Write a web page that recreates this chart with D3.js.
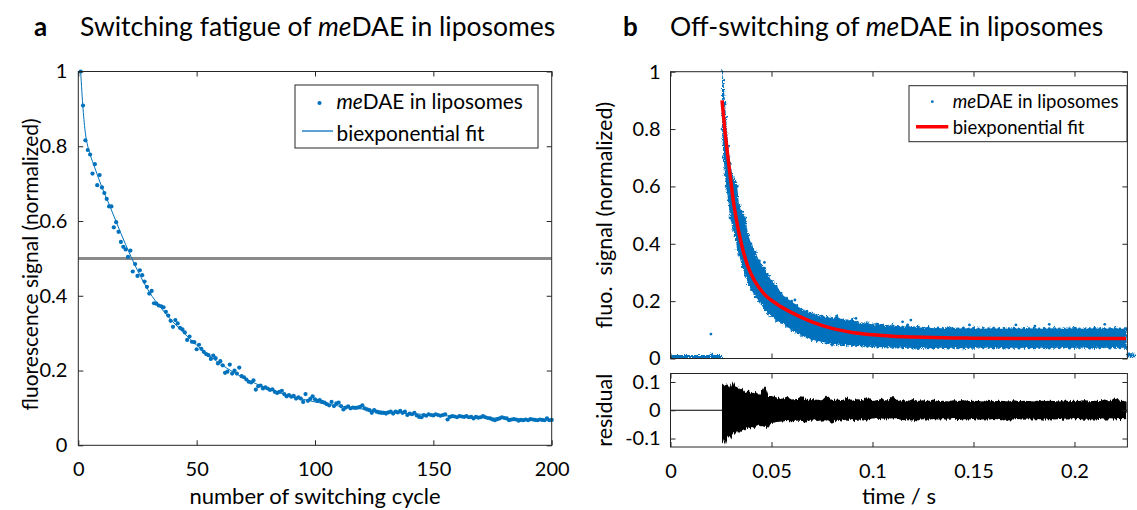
<!DOCTYPE html>
<html>
<head>
<meta charset="utf-8">
<script src="https://cdn.jsdelivr.net/npm/d3@7"></script>
<style>
  body { margin: 0; background: #fff; }
  svg text { font-family: Lato, "Open Sans", sans-serif; fill: #000; }
  .pre { white-space: pre; }
</style>
</head>
<body>
<svg id="chart" width="1137" height="510"></svg>
<script>
// ---------- panel a: switching fatigue ----------
const fatigueSignal = [
  1.000, 0.909, 0.816, 0.790, 0.778, 0.727, 0.752, 0.696, 0.723, 0.690,
  0.675, 0.659, 0.639, 0.639, 0.583, 0.597, 0.571, 0.544, 0.531, 0.524,
  0.504, 0.521, 0.465, 0.485, 0.453, 0.468, 0.455, 0.438, 0.424, 0.406,
  0.413, 0.380, 0.379, 0.374, 0.372, 0.369, 0.357, 0.347, 0.333, 0.317,
  0.335, 0.326, 0.314, 0.310, 0.302, 0.282, 0.291, 0.277, 0.276, 0.257,
  0.269, 0.258, 0.250, 0.244, 0.241, 0.231, 0.240, 0.233, 0.219, 0.225,
  0.214, 0.194, 0.197, 0.216, 0.192, 0.200, 0.192, 0.208, 0.185, 0.182,
  0.176, 0.170, 0.168, 0.174, 0.149, 0.158, 0.160, 0.152, 0.155, 0.152,
  0.148, 0.150, 0.143, 0.140, 0.143, 0.146, 0.137, 0.131, 0.134, 0.130,
  0.132, 0.125, 0.128, 0.125, 0.116, 0.137, 0.119, 0.124, 0.131, 0.123,
  0.119, 0.121, 0.116, 0.114, 0.110, 0.107, 0.116, 0.105, 0.112, 0.114,
  0.105, 0.096, 0.101, 0.104, 0.099, 0.101, 0.100, 0.101, 0.103, 0.107,
  0.099, 0.096, 0.094, 0.087, 0.094, 0.090, 0.088, 0.087, 0.087, 0.085,
  0.088, 0.090, 0.085, 0.090, 0.088, 0.092, 0.087, 0.090, 0.081, 0.085,
  0.083, 0.087, 0.080, 0.076, 0.075, 0.081, 0.079, 0.083, 0.081, 0.080,
  0.083, 0.081, 0.079, 0.081, 0.083, 0.069, 0.076, 0.078, 0.077, 0.075,
  0.078, 0.077, 0.076, 0.078, 0.075, 0.076, 0.072, 0.076, 0.074, 0.075,
  0.078, 0.075, 0.073, 0.072, 0.069, 0.067, 0.070, 0.072, 0.075, 0.073,
  0.072, 0.067, 0.069, 0.070, 0.069, 0.066, 0.068, 0.067, 0.069, 0.067,
  0.070, 0.069, 0.068, 0.067, 0.069, 0.068, 0.067, 0.072, 0.067, 0.068
];
const fatigueCycle = fatigueSignal.map((_, i) => i + 1);

const fatigueFitCycle = [1, 2, 3, 4, 5, 7, 10, 13, 16, 20, 25, 30, 35, 40, 45, 50,
  60, 70, 80, 90, 100, 110, 120, 130, 140, 150, 160, 170, 180, 190, 200];
const fatigueFitValue = [1.000, 0.900, 0.835, 0.800, 0.778, 0.742, 0.690, 0.645, 0.598,
  0.537, 0.468, 0.410, 0.367, 0.330, 0.298, 0.268, 0.218, 0.180, 0.152, 0.131,
  0.116, 0.105, 0.097, 0.090, 0.085, 0.081, 0.077, 0.074, 0.072, 0.070, 0.068];

const halfLevel = 0.5;
const aXTicks = [0, 50, 100, 150, 200];
const aYTicks = [0, 0.2, 0.4, 0.6, 0.8, 1];

// ---------- panel b: off-switching kinetics ----------
// sample times of the decay (s) with upper / lower edge of the measured point cloud
const offTime = [
  0.0255, 0.0262, 0.0270, 0.0275, 0.0286, 0.0295, 0.0310, 0.0320, 0.0330, 0.0340,
  0.0355, 0.0370, 0.0385, 0.0400, 0.0420, 0.0440, 0.0465, 0.0485, 0.0500,
  0.0525, 0.0550, 0.0575, 0.0600, 0.0625, 0.0650, 0.0675, 0.0700, 0.0725, 0.0750,
  0.0775, 0.0800, 0.0825, 0.0850, 0.0875, 0.0900, 0.0925, 0.0950, 0.0975, 0.1000,
  0.1025, 0.1050, 0.1075, 0.1100, 0.1125, 0.1150, 0.1175, 0.1200, 0.1225, 0.1250,
  0.1275, 0.1300, 0.1325, 0.1350, 0.1375, 0.1400, 0.1425, 0.1450, 0.1475, 0.1500,
  0.1525, 0.1550, 0.1575, 0.1600, 0.1625, 0.1650, 0.1675, 0.1700, 0.1725, 0.1750,
  0.1775, 0.1800, 0.1825, 0.1850, 0.1875, 0.1900, 0.1925, 0.1950, 0.1975, 0.2000,
  0.2025, 0.2050, 0.2075, 0.2100, 0.2125, 0.2150, 0.2175, 0.2200, 0.2225, 0.2250,
  0.2258
];
const offHigh = [
  1.000, 0.970, 0.890, 0.840, 0.740, 0.680, 0.630, 0.615, 0.600, 0.530,
  0.510, 0.490, 0.430, 0.400, 0.370, 0.340, 0.315, 0.290, 0.270,
  0.255, 0.225, 0.210, 0.200, 0.185, 0.172, 0.165, 0.158, 0.152, 0.148,
  0.145, 0.140, 0.146, 0.135, 0.132, 0.136, 0.127, 0.122, 0.124, 0.118,
  0.120, 0.116, 0.113, 0.117, 0.112, 0.110, 0.114, 0.108, 0.110, 0.106,
  0.109, 0.105, 0.107, 0.104, 0.108, 0.105, 0.103, 0.107, 0.104, 0.106,
  0.103, 0.105, 0.104, 0.106, 0.103, 0.105, 0.104, 0.106, 0.103, 0.105,
  0.104, 0.106, 0.103, 0.105, 0.104, 0.106, 0.103, 0.105, 0.104, 0.106,
  0.103, 0.105, 0.104, 0.106, 0.103, 0.105, 0.104, 0.107, 0.103, 0.104,
  0.104
];
const offLow = [
  0.800, 0.700, 0.640, 0.600, 0.550, 0.490, 0.450, 0.430, 0.380, 0.360,
  0.320, 0.290, 0.260, 0.240, 0.215, 0.200, 0.170, 0.155, 0.148,
  0.132, 0.125, 0.112, 0.100, 0.090, 0.080, 0.073, 0.066, 0.062, 0.058,
  0.054, 0.050, 0.050, 0.047, 0.047, 0.045, 0.044, 0.043, 0.042, 0.041,
  0.040, 0.039, 0.040, 0.038, 0.039, 0.037, 0.038, 0.036, 0.035, 0.038,
  0.037, 0.036, 0.038, 0.037, 0.036, 0.038, 0.037, 0.036, 0.038, 0.037,
  0.039, 0.037, 0.038, 0.036, 0.038, 0.035, 0.037, 0.038, 0.036, 0.038,
  0.037, 0.036, 0.038, 0.037, 0.036, 0.038, 0.037, 0.039, 0.036, 0.038,
  0.037, 0.038, 0.036, 0.038, 0.037, 0.038, 0.036, 0.038, 0.037, 0.038,
  0.038
];
// residual (data minus fit): upper / lower extent at the same times
const residHigh = [
  0.095, 0.090, 0.088, 0.092, 0.085, 0.080, 0.100, 0.082, 0.085, 0.072,
  0.080, 0.065, 0.070, 0.060, 0.065, 0.055, 0.088, 0.050, 0.050,
  0.045, 0.040, 0.048, 0.038, 0.040, 0.050, 0.036, 0.040, 0.037, 0.035,
  0.052, 0.036, 0.038, 0.035, 0.045, 0.034, 0.040, 0.035, 0.048, 0.033,
  0.036, 0.042, 0.034, 0.050, 0.033, 0.036, 0.032, 0.040, 0.033, 0.035,
  0.032, 0.038, 0.032, 0.034, 0.031, 0.035, 0.033, 0.036, 0.032, 0.034,
  0.033, 0.031, 0.037, 0.032, 0.034, 0.033, 0.031, 0.035, 0.032, 0.034,
  0.033, 0.031, 0.036, 0.032, 0.034, 0.033, 0.031, 0.035, 0.032, 0.034,
  0.033, 0.036, 0.032, 0.034, 0.033, 0.038, 0.032, 0.044, 0.034, 0.033,
  0.030
];
const residLow = [
  -0.085, -0.118, -0.100, -0.120, -0.090, -0.100, -0.080, -0.088, -0.075, -0.080,
  -0.070, -0.075, -0.060, -0.065, -0.058, -0.055, -0.058, -0.065, -0.045,
  -0.042, -0.040, -0.038, -0.040, -0.036, -0.038, -0.040, -0.035, -0.038, -0.036,
  -0.035, -0.048, -0.034, -0.036, -0.033, -0.035, -0.034, -0.032, -0.036, -0.033,
  -0.030, -0.034, -0.032, -0.033, -0.031, -0.035, -0.032, -0.033, -0.036, -0.032,
  -0.034, -0.031, -0.033, -0.032, -0.034, -0.031, -0.035, -0.032, -0.033, -0.031,
  -0.034, -0.032, -0.033, -0.031, -0.033, -0.040, -0.032, -0.033, -0.031, -0.034,
  -0.032, -0.033, -0.031, -0.034, -0.032, -0.033, -0.031, -0.034, -0.032, -0.033,
  -0.031, -0.034, -0.032, -0.033, -0.031, -0.034, -0.032, -0.033, -0.031, -0.032,
  -0.030
];
// isolated points lying outside the dense cloud
const strayTime  = [0.0200, 0.0465, 0.0542, 0.0616, 0.0800, 0.0822, 0.0918, 0.1020,
  0.1149, 0.1174, 0.1190, 0.1227, 0.1480, 0.1710, 0.1804, 0.1875, 0.2150];
const strayValue = [0.085, 0.335, 0.227, 0.204, 0.047, 0.148, 0.140, 0.120,
  0.128, 0.117, 0.134, 0.035, 0.117, 0.117, 0.113, 0.119, 0.119];
// dark level before the switching pulse and after the recording window
const darkTime = [0, 0.0195, 0.0200, 0.0206, 0.0212, 0.0250, 0.0255];
const darkHigh = [0.012, 0.012, 0.020, 0.022, 0.012, 0.012, 0.012];
const darkLow  = [0.002, 0.002, 0.002, 0.002, 0.002, 0.002, 0.002];
const tailTime = [0.2259, 0.2302];
const tailHigh = [0.022, 0.016];
const tailLow  = [0.004, 0.004];

const offFitTime = [0.0255, 0.0270, 0.0283, 0.0295, 0.0311, 0.0331, 0.0352, 0.0380,
  0.0418, 0.0468, 0.0526, 0.0600, 0.0700, 0.0800, 0.0900, 0.1000, 0.1100, 0.1200,
  0.1350, 0.1500, 0.1750, 0.2000, 0.2255];
const offFitValue = [0.900, 0.790, 0.710, 0.640, 0.550, 0.466, 0.397, 0.327,
  0.269, 0.222, 0.190, 0.160, 0.128, 0.105, 0.091, 0.083, 0.078, 0.075,
  0.072, 0.071, 0.070, 0.070, 0.070];

const bXTicks = [0, 0.05, 0.1, 0.15, 0.2];
const bYTicks = [0, 0.2, 0.4, 0.6, 0.8, 1];
const rYTicks = [-0.1, 0, 0.1];

// ---------- drawing ----------
const BLUE = "#0072BD", AXIS = "#262626";
const svg = d3.select("#chart");

// grain filters: a dense scatter cloud and a spiky noise trace
const defs = svg.append("defs");
const fCloud = defs.append("filter").attr("id", "grain").attr("x", "-5%").attr("y", "-5%")
  .attr("width", "110%").attr("height", "110%");
fCloud.append("feTurbulence").attr("type", "fractalNoise").attr("baseFrequency", "0.9")
  .attr("numOctaves", 1).attr("seed", 3).attr("result", "n");
fCloud.append("feDisplacementMap").attr("in", "SourceGraphic").attr("in2", "n")
  .attr("scale", 4).attr("xChannelSelector", "R").attr("yChannelSelector", "G");
const fSpike = defs.append("filter").attr("id", "spiky").attr("x", "-2%").attr("y", "-20%")
  .attr("width", "104%").attr("height", "140%");
fSpike.append("feTurbulence").attr("type", "fractalNoise").attr("baseFrequency", "0.7 0.02")
  .attr("numOctaves", 1).attr("seed", 5).attr("result", "n");
fSpike.append("feDisplacementMap").attr("in", "SourceGraphic").attr("in2", "n")
  .attr("scale", 6).attr("xChannelSelector", "B").attr("yChannelSelector", "R");

const xA = d3.scaleLinear().domain([0, 200]).range([78.3, 551.7]);
const yA = d3.scaleLinear().domain([0, 1]).range([445.3, 71.5]);
const xB = d3.scaleLinear().domain([0, 0.2262]).range([670.5, 1127.4]);
const yB = d3.scaleLinear().domain([0, 1]).range([358.5, 71.7]);
const yR = d3.scaleLinear().domain([-0.13, 0.13]).range([447, 373.5]);

const fmt = d => String(d);

function boxAxes(x, y, xt, yt, opt) {
  const g = svg.append("g");
  const [x0, x1] = x.range(), [y0, y1] = y.range();
  const tick = opt.tick || 5;
  const style = sel => {
    sel.select(".domain").remove();
    sel.selectAll(".tick line").attr("stroke", AXIS);
    sel.selectAll(".tick text").attr("font-size", 20).attr("fill", "#000")
      .attr("font-family", "Lato, 'Open Sans', sans-serif");
  };
  g.append("g").attr("transform", `translate(0,${y0})`)
    .call(d3.axisBottom(x).tickValues(xt).tickSize(-tick).tickSizeOuter(0)
      .tickPadding(16.5).tickFormat(opt.xLabels ? fmt : ""))
    .call(style);
  g.append("g").attr("transform", `translate(0,${y1})`)
    .call(d3.axisTop(x).tickValues(xt).tickSize(-tick).tickSizeOuter(0).tickFormat(""))
    .call(style);
  g.append("g").attr("transform", `translate(${x0},0)`)
    .call(d3.axisLeft(y).tickValues(yt).tickSize(-tick).tickSizeOuter(0)
      .tickPadding(opt.yPad).tickFormat(fmt))
    .call(style);
  g.append("g").attr("transform", `translate(${x1},0)`)
    .call(d3.axisRight(y).tickValues(yt).tickSize(-tick).tickSizeOuter(0).tickFormat(""))
    .call(style);
  g.append("rect").attr("x", x0).attr("y", y1).attr("width", x1 - x0).attr("height", y0 - y1)
    .attr("fill", "none").attr("stroke", AXIS).attr("stroke-width", 1);
  return g;
}

// panel a
const gA = svg.append("g");
gA.append("line")
  .attr("x1", xA(0)).attr("x2", xA(200))
  .attr("y1", yA(halfLevel)).attr("y2", yA(halfLevel))
  .attr("stroke", "#8a8a8a").attr("stroke-width", 3);
gA.selectAll("circle.pt").data(fatigueSignal).join("circle")
  .attr("class", "pt")
  .attr("cx", (d, i) => xA(fatigueCycle[i]))
  .attr("cy", d => yA(d))
  .attr("r", 2.1).attr("fill", BLUE);
gA.append("path")
  .datum(fatigueFitCycle.map((c, i) => [c, fatigueFitValue[i]]))
  .attr("d", d3.line().x(d => xA(d[0])).y(d => yA(d[1])).curve(d3.curveMonotoneX))
  .attr("fill", "none").attr("stroke", BLUE).attr("stroke-width", 1);
boxAxes(xA, yA, aXTicks, aYTicks, { xLabels: true, yPad: 11, tick: 5 });

// panel b, main axes
const gB = svg.append("g");
const band = (tArr, hi, lo, y) => d3.area()
  .x((d, i) => xB(tArr[i])).y0((d, i) => y(lo[i])).y1((d, i) => y(hi[i]))
  .curve(d3.curveLinear)(tArr);

const cloud = gB.append("g").attr("filter", "url(#grain)");
cloud.append("path").attr("d", band(darkTime, darkHigh, darkLow, yB)).attr("fill", BLUE);
cloud.append("path").attr("d", band(offTime, offHigh, offLow, yB)).attr("fill", BLUE);
cloud.append("path").attr("d", band(tailTime, tailHigh, tailLow, yB)).attr("fill", BLUE);
cloud.selectAll("circle.hi").data(offHigh).join("circle").attr("class", "hi")
  .attr("cx", (d, i) => xB(offTime[i])).attr("cy", d => yB(d)).attr("r", 1.4).attr("fill", BLUE);
cloud.selectAll("circle.lo").data(offLow).join("circle").attr("class", "lo")
  .attr("cx", (d, i) => xB(offTime[i])).attr("cy", d => yB(d)).attr("r", 1.4).attr("fill", BLUE);
gB.selectAll("circle.stray").data(strayValue).join("circle").attr("class", "stray")
  .attr("cx", (d, i) => xB(strayTime[i])).attr("cy", d => yB(d)).attr("r", 1.4).attr("fill", BLUE);
gB.append("path")
  .datum(offFitTime.map((t, i) => [t, offFitValue[i]]))
  .attr("d", d3.line().x(d => xB(d[0])).y(d => yB(d[1])).curve(d3.curveMonotoneX))
  .attr("fill", "none").attr("stroke", "#FF0000").attr("stroke-width", 3.5);
boxAxes(xB, yB, bXTicks, bYTicks, { xLabels: false, yPad: 10, tick: 5 });

// panel b, residual axes
const gR = svg.append("g");
gR.append("line").attr("x1", xB(0)).attr("x2", xB(0.2262))
  .attr("y1", yR(0)).attr("y2", yR(0)).attr("stroke", "#000").attr("stroke-width", 1.2);
gR.append("path").attr("d", band(offTime, residHigh, residLow, yR)).attr("fill", "#000")
  .attr("filter", "url(#spiky)");
boxAxes(xB, yR, bXTicks, rYTicks, { xLabels: true, yPad: 10, tick: 5 });

// titles and labels
const text = (x, y, s, size, extra) => {
  const t = svg.append("text").attr("x", x).attr("y", y).attr("font-size", size);
  if (extra) extra(t);
  if (s !== null) t.text(s);
  return t;
};
text(34, 36, "a", 26, t => t.attr("font-weight", "bold"));
text(80, 36, null, 26.5, t => {
  t.append("tspan").text("Switching fatigue of ");
  t.append("tspan").attr("font-style", "italic").text("me");
  t.append("tspan").text("DAE in liposomes");
});
text(623, 36, "b", 26, t => t.attr("font-weight", "bold"));
text(670, 36, null, 26.5, t => {
  t.append("tspan").text("Off-switching of ");
  t.append("tspan").attr("font-style", "italic").text("me");
  t.append("tspan").text("DAE in liposomes");
});

text((xA(0) + xA(200)) / 2, 503.5, "number of switching cycle", 22, t => t.attr("text-anchor", "middle"));
text((xB(0) + xB(0.2262)) / 2, 503.5, "time / s", 22, t => t.attr("text-anchor", "middle"));

const vlabel = (x, y, s, size) => svg.append("text").attr("class", "pre")
  .attr("transform", `translate(${x},${y}) rotate(-90)`)
  .attr("text-anchor", "middle").attr("font-size", size).text(s);
vlabel(38, (yA(0) + yA(1)) / 2 + 6, "fluorescence signal (normalized)", 21);
vlabel(612, (yB(0) + yB(1)) / 2, "fluo.  signal (normalized)", 21.5);
vlabel(612, yR(0), "residual", 21.5);

// legend a
const lgA = svg.append("g");
lgA.append("rect").attr("x", 295).attr("y", 85).attr("width", 243).attr("height", 63)
  .attr("fill", "#fff").attr("stroke", AXIS);
lgA.append("circle").attr("cx", 319.5).attr("cy", 103).attr("r", 2.1).attr("fill", BLUE);
lgA.append("line").attr("x1", 302).attr("x2", 333).attr("y1", 131).attr("y2", 131)
  .attr("stroke", BLUE).attr("stroke-width", 1.3);
const la1 = lgA.append("text").attr("x", 336.5).attr("y", 109).attr("font-size", 20.8);
la1.append("tspan").attr("font-style", "italic").text("me");
la1.append("tspan").text("DAE in liposomes");
lgA.append("text").attr("x", 336.5).attr("y", 140.5).attr("font-size", 20.8).text("biexponential fit");

// legend b
const lgB = svg.append("g");
lgB.append("rect").attr("x", 909).attr("y", 85.7).attr("width", 218).attr("height", 56)
  .attr("fill", "#fff").attr("stroke", AXIS);
lgB.append("circle").attr("cx", 932.3).attr("cy", 101.7).attr("r", 1.4).attr("fill", BLUE);
lgB.append("line").attr("x1", 916).attr("x2", 948.3).attr("y1", 126.7).attr("y2", 126.7)
  .attr("stroke", "#FF0000").attr("stroke-width", 3.5);
const lb1 = lgB.append("text").attr("x", 952.7).attr("y", 108.3).attr("font-size", 18.5);
lb1.append("tspan").attr("font-style", "italic").text("me");
lb1.append("tspan").text("DAE in liposomes");
lgB.append("text").attr("x", 952.7).attr("y", 134.3).attr("font-size", 18.5).text("biexponential fit");
</script>
</body>
</html>
